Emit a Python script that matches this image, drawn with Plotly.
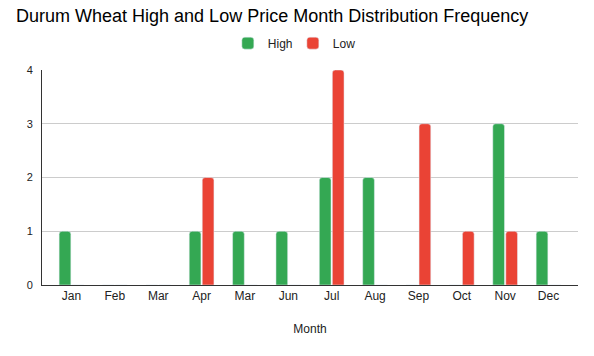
import plotly.graph_objects as go

months = ["Jan", "Feb", "Mar", "Apr", "Mar", "Jun", "Jul", "Aug", "Sep", "Oct", "Nov", "Dec"]
high = [1, 0, 0, 1, 1, 1, 2, 2, 0, 0, 3, 1]
low = [0, 0, 0, 2, 0, 0, 4, 0, 3, 1, 1, 0]
positions = list(range(len(months)))

fig = go.Figure()
fig.add_trace(go.Bar(x=positions, y=high, name="High", marker=dict(color="#34a853", cornerradius=3)))
fig.add_trace(go.Bar(x=positions, y=low, name="Low", marker=dict(color="#ea4335", cornerradius=3)))

fig.update_layout(
    width=594, height=356,
    margin=dict(l=42, r=16, t=70, b=71),
    paper_bgcolor="white", plot_bgcolor="white",
    font=dict(family="Liberation Sans, Arial, sans-serif", color="#222222"),
    title=dict(text="Durum Wheat High and Low Price Month Distribution Frequency",
               x=0.027, xanchor="left", y=0.955, yanchor="middle",
               font=dict(size=18, color="#000000")),
    legend=dict(orientation="h", x=0.468, xanchor="center", y=1.125, yanchor="middle",
                font=dict(size=12, color="#222222"), entrywidth=20, traceorder="normal"),
    barmode="group", bargap=0.4, bargroupgap=0.1,
    showlegend=True,
)
fig.update_xaxes(tickvals=positions, ticktext=months, range=[-0.68, 11.68],
                 showgrid=False, showline=True, linecolor="#333333", linewidth=1,
                 tickfont=dict(size=12, color="#222222"), ticks="",
                 title=dict(text="Month", font=dict(size=12, color="#222222"), standoff=22))
fig.update_yaxes(range=[0, 4], dtick=1, showgrid=True, gridcolor="#cccccc",
                 showline=True, linecolor="#333333", linewidth=1,
                 zeroline=False, tickfont=dict(size=11, color="#222222"), ticks="",
                 ticklabelstandoff=6)

fig.write_html("out.html", config={"displayModeBar": False},
               post_script="document.body.style.margin='0';")
